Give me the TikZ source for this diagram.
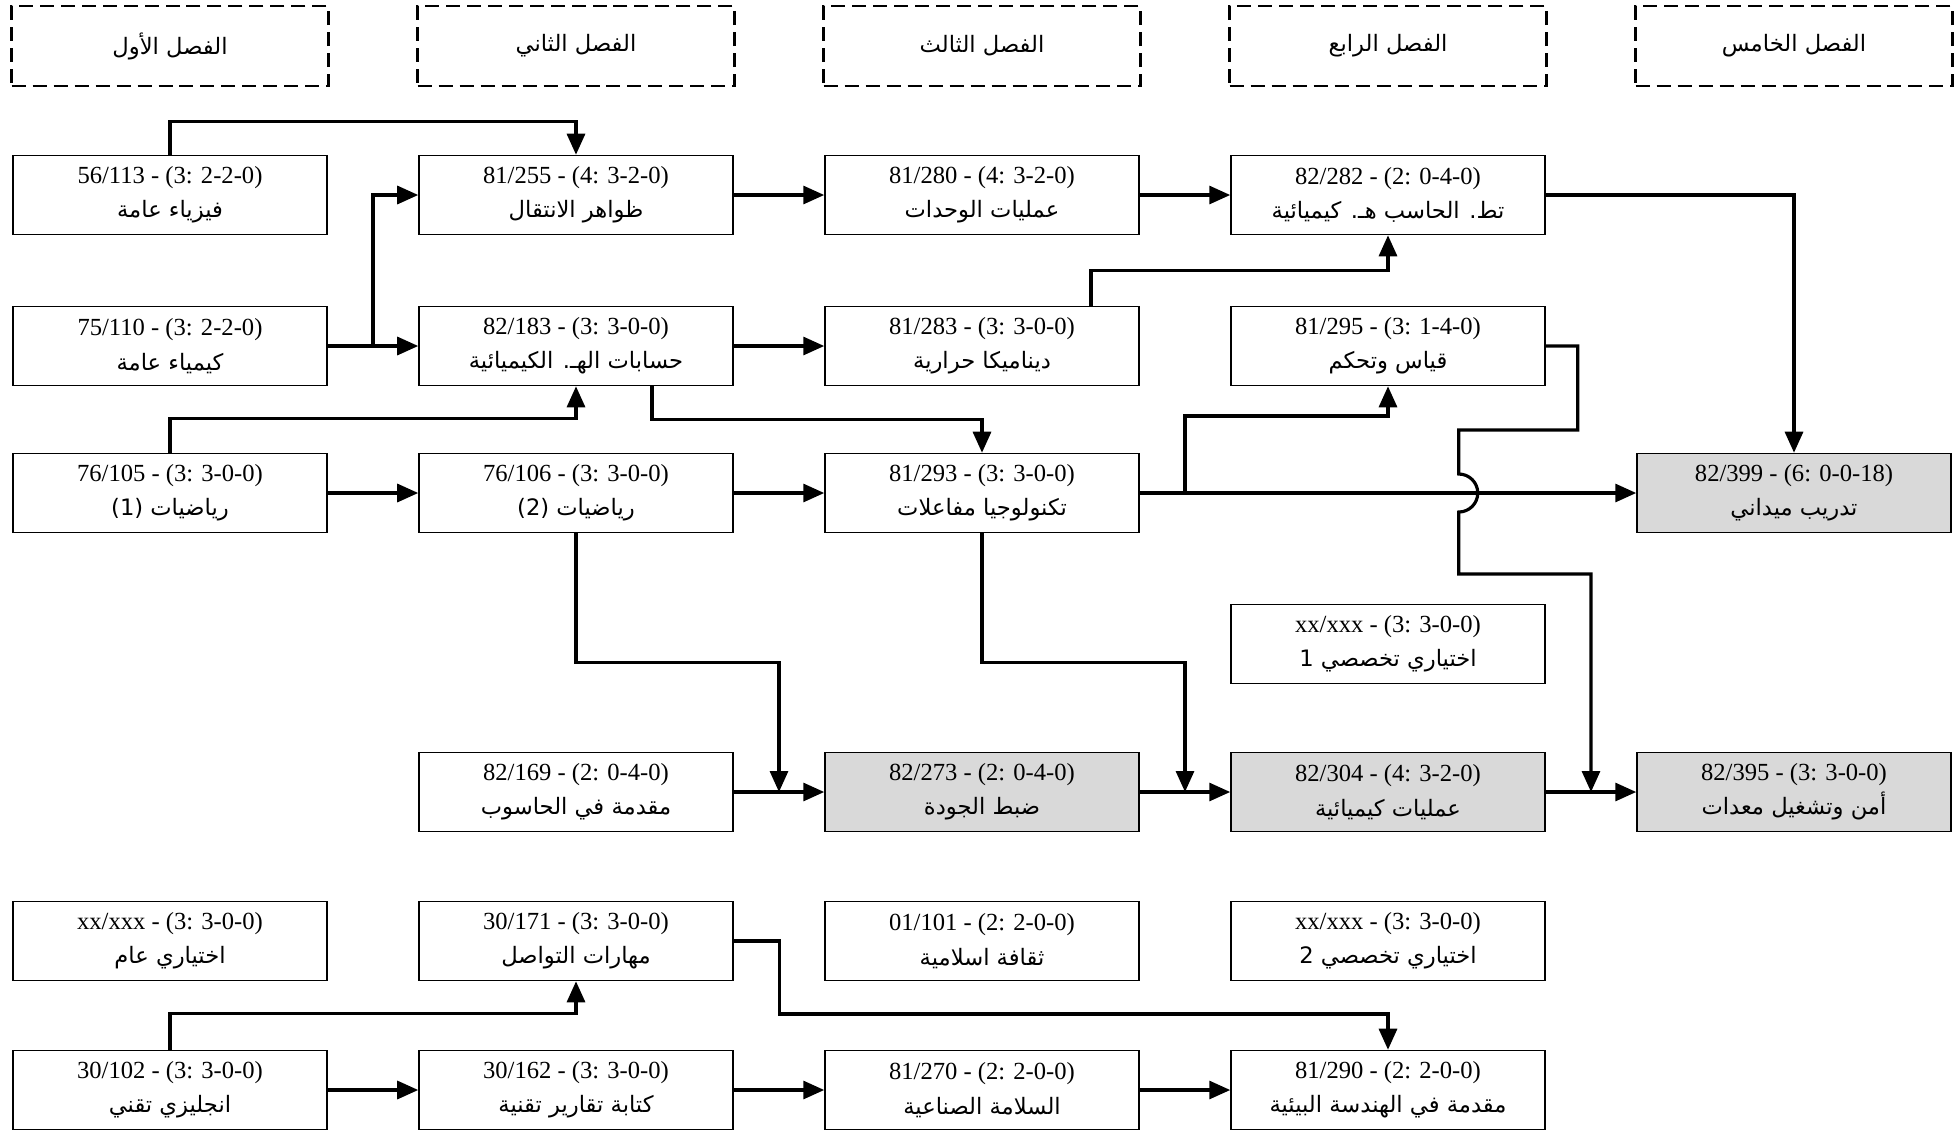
\documentclass[tikz,border=0pt]{standalone}
\usepackage{fontspec}
\setmainfont{Liberation Serif}
\newfontfamily\arabicfont[Script=Arabic,Scale=0.92]{DejaVu Sans}
\TeXXeTstate=1
\usepackage{xcolor}
\usetikzlibrary{arrows.meta,calc}
\definecolor{cgray}{HTML}{D9D9D9}
\newcommand\artxt[1]{{\arabicfont\beginR #1\endR}}
\tikzset{
  course/.style = {rectangle, draw=black, line width=0.9pt, fill=white, align=center,
                   minimum width=6.28cm, minimum height=1.58cm, inner sep=2pt,
                   font=\fontsize{14}{19.5}\selectfont},
  core/.style   = {course, fill=cgray},
  term/.style   = {rectangle, draw=black, line width=1.5pt, dash pattern=on 2.8mm off 1.4mm,
                   minimum width=6.34cm, minimum height=1.6cm, font=\fontsize{14}{17}\selectfont},
  link/.style   = {-{Triangle[length=4.2mm,width=3.6mm]}, line width=1.8pt},
}

\begin{document}
\begin{tikzpicture}[x=0.02cm,y=-0.02cm]
\useasboundingbox (0,0) rectangle (1955,1134);
% terms
\foreach \x/\t [count=\i] in {170/الفصل الأول,576/الفصل الثاني,982/الفصل الثالث,1388/الفصل الرابع,1794/الفصل الخامس}
  {\node[term] (term\i) at (\x,46) {\artxt{\t}};}
% column 1
\node[course] (n113) at (170,195)  {56/113 - (3: 2-2-0)\\\artxt{فيزياء عامة}};
\node[course] (n110) at (170,346)  {75/110 - (3: 2-2-0)\\\artxt{كيمياء عامة}};
\node[course] (n105) at (170,493)  {76/105 - (3: 3-0-0)\\\artxt{رياضيات \beginL(1)\endL}};
\node[course] (ge)   at (170,941)  {xx/xxx - (3: 3-0-0)\\\artxt{اختياري عام}};
\node[course] (n102) at (170,1090) {30/102 - (3: 3-0-0)\\\artxt{انجليزي تقني}};
% column 2
\node[course] (n255) at (576,195)  {81/255 - (4: 3-2-0)\\\artxt{ظواهر الانتقال}};
\node[course] (n183) at (576,346)  {82/183 - (3: 3-0-0)\\\artxt{حسابات الهـ. الكيميائية}};
\node[course] (n106) at (576,493)  {76/106 - (3: 3-0-0)\\\artxt{رياضيات \beginL(2)\endL}};
\node[course] (n169) at (576,792)  {82/169 - (2: 0-4-0)\\\artxt{مقدمة في الحاسوب}};
\node[course] (n171) at (576,941)  {30/171 - (3: 3-0-0)\\\artxt{مهارات التواصل}};
\node[course] (n162) at (576,1090) {30/162 - (3: 3-0-0)\\\artxt{كتابة تقارير تقنية}};
% column 3
\node[course] (n280) at (982,195)  {81/280 - (4: 3-2-0)\\\artxt{عمليات الوحدات}};
\node[course] (n283) at (982,346)  {81/283 - (3: 3-0-0)\\\artxt{ديناميكا حرارية}};
\node[course] (n293) at (982,493)  {81/293 - (3: 3-0-0)\\\artxt{تكنولوجيا مفاعلات}};
\node[core]   (n273) at (982,792)  {82/273 - (2: 0-4-0)\\\artxt{ضبط الجودة}};
\node[course] (n101) at (982,941)  {01/101 - (2: 2-0-0)\\\artxt{ثقافة اسلامية}};
\node[course] (n270) at (982,1090) {81/270 - (2: 2-0-0)\\\artxt{السلامة الصناعية}};
% column 4
\node[course] (n282) at (1388,195)  {82/282 - (2: 0-4-0)\\\artxt{تط. الحاسب هـ. كيميائية}};
\node[course] (n295) at (1388,346)  {81/295 - (3: 1-4-0)\\\artxt{قياس وتحكم}};
\node[course] (se1)  at (1388,644)  {xx/xxx - (3: 3-0-0)\\\artxt{اختياري تخصصي \beginL1\endL}};
\node[core]   (n304) at (1388,792)  {82/304 - (4: 3-2-0)\\\artxt{عمليات كيميائية}};
\node[course] (se2)  at (1388,941)  {xx/xxx - (3: 3-0-0)\\\artxt{اختياري تخصصي \beginL2\endL}};
\node[course] (n290) at (1388,1090) {81/290 - (2: 2-0-0)\\\artxt{مقدمة في الهندسة البيئية}};
% column 5
\node[core] (n399) at (1794,493) {82/399 - (6: 0-0-18)\\\artxt{تدريب ميداني}};
\node[core] (n395) at (1794,792) {82/395 - (3: 3-0-0)\\\artxt{أمن وتشغيل معدات}};
% junctions
\coordinate (j1) at ($(n110.east)!.5!(n183.west)$);
\coordinate (j2) at ($(n293.east)!.5!(n293.east -| n295.west)$);
\coordinate (j3) at ($(n169.east)!.5!(n273.west)$);
\coordinate (j4) at ($(n273.east)!.5!(n304.west)$);
\coordinate (j5) at ($(n304.east)!.5!(n395.west)$);
% straight links
\foreach \a/\b in {n255/n280,n280/n282,n110/n183,n183/n283,n105/n106,n106/n293,
                   n169/n273,n273/n304,n304/n395,n102/n162,n162/n270,n270/n290}
  {\draw[link] (\a) -- (\b);}
% routed links
\draw[link] (n113.north) -- ++(0,-33) -| (n255.north);
\draw[link] (j1) |- (n255.west);
\draw[link] (n105.north) -- ++(0,-34) -| (n183.south);
\draw[link] ($(n183.south)+(76,0)$) -- ++(0,33) -| (n293.north);
\draw[link] ($(n283.north)+(109,0)$) -- ++(0,-35) -| (n282.south);
\draw[link] (n293.east) -- (n399.west);
\draw[link] (j2) -- ++(0,-77) -| (n295.south);
\draw[link] (n282.east) -| (n399.north);
\draw[link] (n295.east) -- ++(32,0) -- ++(0,84) -- ++(-119,0) -- ++(0,44)
  arc[start angle=-90, end angle=90, radius=19] -- ++(0,62) -| (j5);
\draw[link] (n106.south) -- ++(0,129) -| (j3);
\draw[link] (n293.south) -- ++(0,129) -| (j4);
\draw[link] (n102.north) -- ++(0,-36) -| (n171.south);
\draw[link] (n171.east) -- ++(46,0) -- ++(0,73) -| (n290.north);
\end{tikzpicture}
\end{document}
